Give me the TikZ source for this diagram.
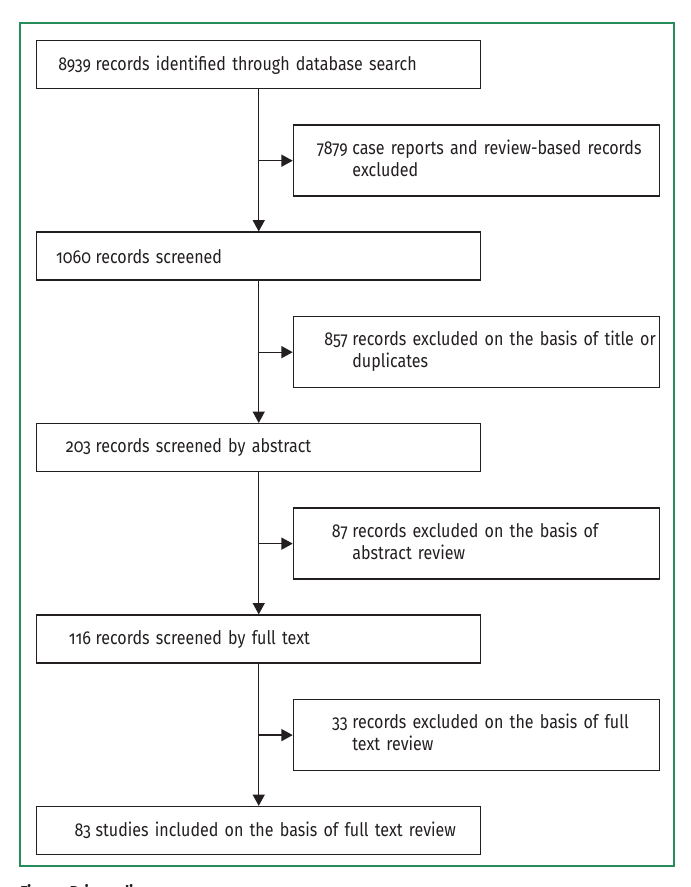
\documentclass[tikz,border=0pt]{standalone}
\usepackage{fontspec}
\setmainfont{Fira Sans}[Numbers=OldStyle,FakeStretch=0.86]
\usepackage{tikz}
\usetikzlibrary{arrows.meta,positioning}
\definecolor{framegreen}{RGB}{40,140,90}
\definecolor{inkgrey}{RGB}{35,31,32}
\newlength{\numw}
% number set flush right in a fixed column, then the text
\newcommand{\numtxt}[2]{\settowidth{\numw}{0000}\makebox[\numw][r]{#1}\hspace{0.25em}#2}
\newcommand{\hangtxt}[3]{\settowidth{\numw}{0000}%
  \begin{tabular}{@{}l@{\hspace{0.25em}}l@{}}\makebox[\numw][r]{#1} & #2\\ & #3\end{tabular}}

\begin{document}
\begin{tikzpicture}[
  x=0.75pt, y=-0.75pt,
  font=\fontsize{14}{16.5}\selectfont,
  text=inkgrey,
  mainbox/.style={draw=inkgrey,line width=1.1pt,align=left,minimum width=333pt,minimum height=36pt,
    text width=310pt,inner xsep=11.5pt,inner ysep=0pt},
  sidebox/.style={draw=inkgrey,line width=1.1pt,align=left,minimum width=274.5pt,minimum height=53.25pt,
    text width=251.5pt,inner xsep=11.5pt,inner ysep=0pt,anchor=north west},
  arr/.style={-{Triangle[length=8.5pt,width=9pt]},line width=1pt,draw=inkgrey},
  node distance=106.5pt
]
\useasboundingbox (0,0) rectangle (690,887);
\draw[framegreen,line width=0.8pt] (20,23) rectangle (674,866);

\node[mainbox, anchor=north west] (m1) at (36,40) {\numtxt{8939}{records identified through database search}};
\node[mainbox, below=of m1] (m2) {\numtxt{1060}{records screened}};
\node[mainbox, below=of m2] (m3) {\numtxt{203}{records screened by abstract}};
\node[mainbox, below=of m3] (m4) {\numtxt{116}{records screened by full text}};
\node[mainbox, below=of m4] (m5) {\numtxt{83}{studies included on the basis of full text review}};

\node[sidebox, below right=26.25pt and 25.5pt of m1.south] (x1) {\hangtxt{7879}{case reports and review-based records}{excluded}};
\node[sidebox, below right=26.25pt and 25.5pt of m2.south] (x2) {\hangtxt{857}{records excluded on the basis of title or}{duplicates}};
\node[sidebox, below right=26.25pt and 25.5pt of m3.south] (x3) {\hangtxt{87}{records excluded on the basis of}{abstract review}};
\node[sidebox, below right=26.25pt and 25.5pt of m4.south] (x4) {\hangtxt{33}{records excluded on the basis of full}{text review}};

\draw[arr] (m1) -- (m2);
\draw[arr] (m2) -- (m3);
\draw[arr] (m3) -- (m4);
\draw[arr] (m4) -- (m5);
\draw[arr] (m1.south |- x1.west) -- (x1.west);
\draw[arr] (m2.south |- x2.west) -- (x2.west);
\draw[arr] (m3.south |- x3.west) -- (x3.west);
\draw[arr] (m4.south |- x4.west) -- (x4.west);

\node[font=\bfseries\fontsize{13}{15}\selectfont, anchor=north west, inner sep=0pt] (cap) at (20,884) {Figure: Prisma diagram};
\end{tikzpicture}
\end{document}
